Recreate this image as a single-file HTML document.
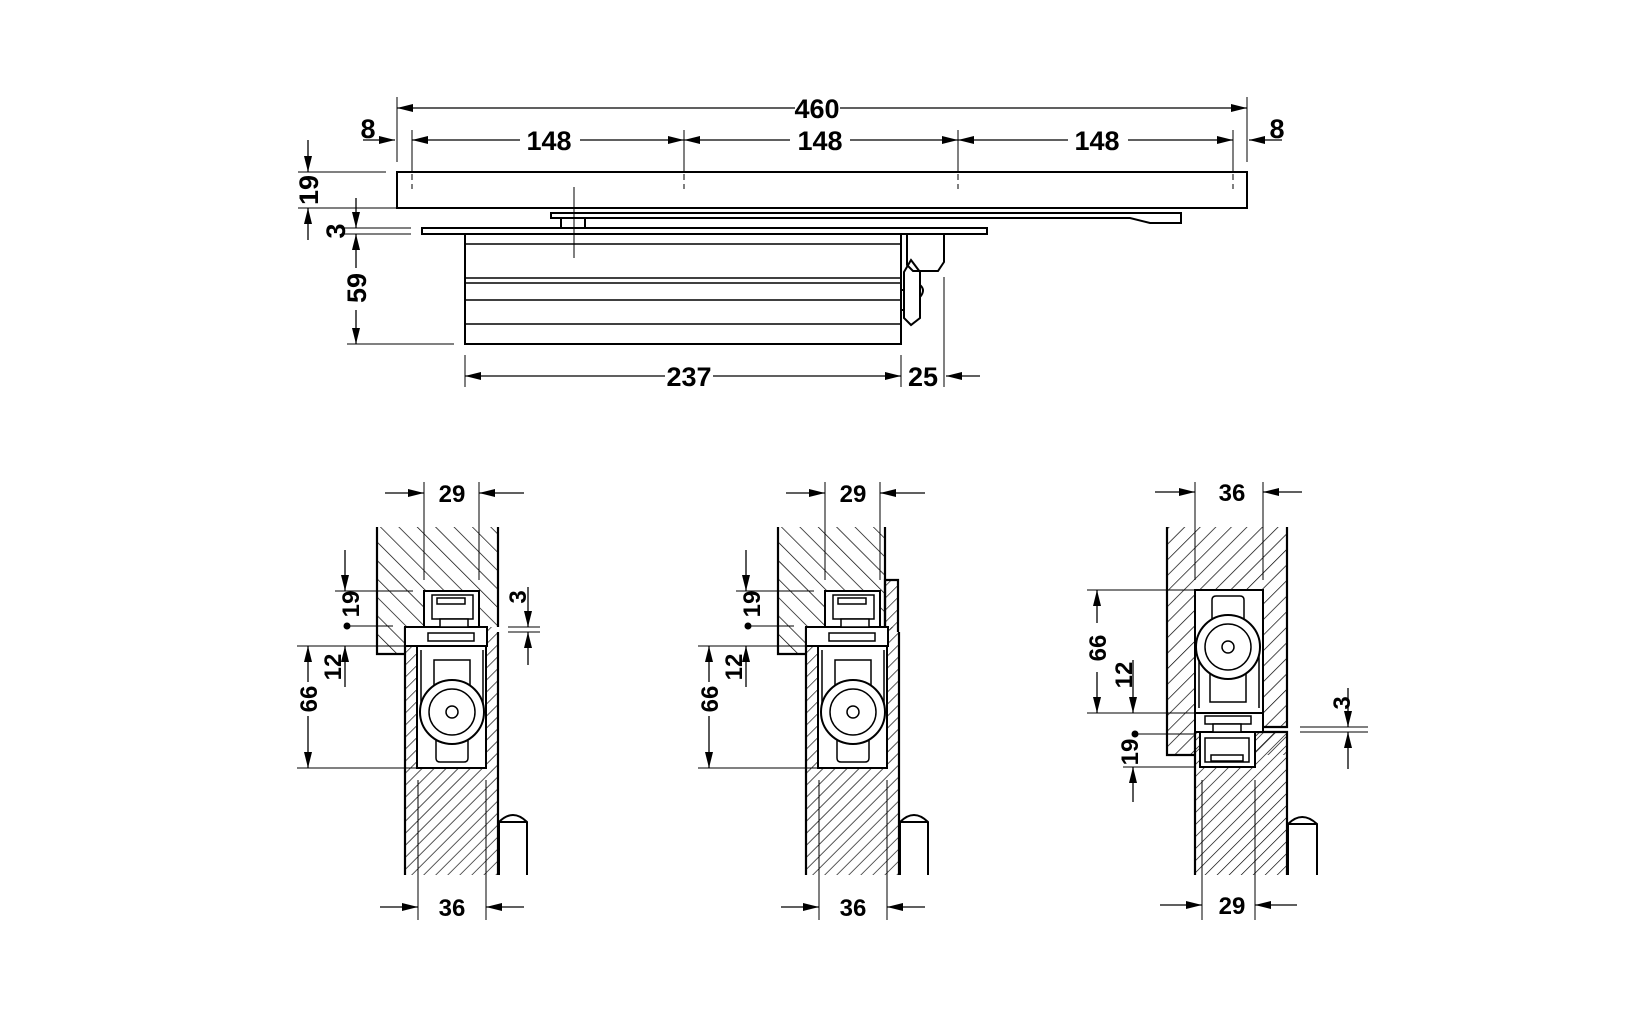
<!DOCTYPE html>
<html><head><meta charset="utf-8"><style>html,body{margin:0;padding:0;background:#fff}svg{display:block}text{font-family:"Liberation Sans",sans-serif;font-weight:bold;fill:#000}</style></head><body>
<svg width="1635" height="1030" viewBox="0 0 1635 1030" xmlns="http://www.w3.org/2000/svg">
<defs>
<marker id="ar" markerWidth="16" markerHeight="8" refX="16" refY="4" orient="auto-start-reverse" markerUnits="userSpaceOnUse"><path d="M0,0 L16,4 L0,8 Z" fill="#000"/></marker>
<pattern id="hb" width="13" height="13" patternUnits="userSpaceOnUse" patternTransform="rotate(-45)"><line x1="0" y1="0" x2="0" y2="13" stroke="#000" stroke-width="1.4"/></pattern>
<pattern id="hs" width="8.5" height="8.5" patternUnits="userSpaceOnUse" patternTransform="rotate(45)"><line x1="0" y1="0" x2="0" y2="8.5" stroke="#000" stroke-width="1.3"/></pattern>
<pattern id="hr" width="11" height="11" patternUnits="userSpaceOnUse" patternTransform="rotate(45)"><line x1="0" y1="0" x2="0" y2="11" stroke="#000" stroke-width="1.4"/></pattern>
<g id="closer">
 <rect x="417" y="646" width="69" height="122" fill="#fff" stroke="#000" stroke-width="2"/>
 <line x1="421" y1="650" x2="421" y2="705" stroke="#000" stroke-width="1.5"/>
 <line x1="483" y1="650" x2="483" y2="705" stroke="#000" stroke-width="1.5"/>
 <rect x="434" y="660" width="36" height="28" fill="#fff" stroke="#000" stroke-width="1.5"/>
 <path d="M436,736 V758 Q436,762 440,762 H464 Q468,762 468,758 V736" fill="#fff" stroke="#000" stroke-width="1.5"/>
 <circle cx="452" cy="712" r="32" fill="#fff" stroke="#000" stroke-width="2"/>
 <circle cx="452" cy="712" r="23" fill="#fff" stroke="#000" stroke-width="1.5"/>
 <circle cx="452" cy="712" r="6" fill="#fff" stroke="#000" stroke-width="1.5"/>
 <rect x="405" y="627" width="82" height="19" fill="#fff" stroke="#000" stroke-width="2"/>
 <rect x="424" y="591" width="55" height="36" fill="#fff" stroke="#000" stroke-width="2"/>
 <rect x="432" y="595" width="41" height="24" fill="#fff" stroke="#000" stroke-width="1.5"/>
 <rect x="437" y="598" width="28" height="6" fill="#fff" stroke="#000" stroke-width="1.5"/>
 <rect x="440" y="619" width="28" height="8" fill="#fff" stroke="#000" stroke-width="1.5"/>
 <rect x="428" y="633" width="46" height="8" fill="#fff" stroke="#000" stroke-width="1.5"/>
</g>
<g id="common">
 <rect x="405" y="627" width="93" height="248" fill="url(#hs)"/>
 <line x1="405" y1="627" x2="405" y2="875" stroke="#000" stroke-width="2.2"/>
 <line x1="498" y1="632" x2="498" y2="875" stroke="#000" stroke-width="2.2"/>
 <use href="#closer"/>
 <path d="M499,875 V822 Q513,808 527,822 V875 M499,822 H527" fill="#fff" stroke="#000" stroke-width="2"/>
 <g stroke="#000" stroke-width="1">
  <line x1="424" y1="482" x2="424" y2="580"/><line x1="479" y1="482" x2="479" y2="580"/>
  <line x1="418" y1="780" x2="418" y2="920"/><line x1="486" y1="780" x2="486" y2="920"/>
  <line x1="297" y1="646" x2="405" y2="646"/><line x1="297" y1="768" x2="417" y2="768"/>
  <line x1="335" y1="591" x2="413" y2="591"/><line x1="347" y1="626" x2="393" y2="626"/>
 </g>
 <g stroke="#000" stroke-width="1.3" marker-end="url(#ar)">
  <line x1="385" y1="493" x2="424" y2="493"/><line x1="524" y1="493" x2="479" y2="493"/>
  <line x1="380" y1="907" x2="418" y2="907"/><line x1="524" y1="907" x2="486" y2="907"/>
  <line x1="308" y1="682" x2="308" y2="646"/><line x1="308" y1="716" x2="308" y2="768"/>
  <line x1="345" y1="687" x2="345" y2="646"/><line x1="345" y1="550" x2="345" y2="591"/>
 </g>
 <circle cx="347" cy="626" r="3.5" fill="#000"/>
 <text x="452" y="502" font-size="24" text-anchor="middle">29</text>
 <text x="452" y="916" font-size="24" text-anchor="middle">36</text>
 <text transform="translate(317,699) rotate(-90)" font-size="24" text-anchor="middle">66</text>
 <text transform="translate(341,667) rotate(-90)" font-size="24" text-anchor="middle">12</text>
 <text transform="translate(359,604) rotate(-90)" font-size="24" text-anchor="middle">19</text>
</g>
</defs>

<!-- TOP VIEW -->
<g stroke="#000" fill="none">
 <g stroke-width="1">
  <line x1="397" y1="97" x2="397" y2="162"/><line x1="1247" y1="97" x2="1247" y2="162"/>
  <line x1="412" y1="130" x2="412" y2="172"/><line x1="684" y1="130" x2="684" y2="172"/><line x1="958" y1="130" x2="958" y2="172"/><line x1="1233" y1="130" x2="1233" y2="172"/>
  <g stroke-dasharray="6,4"><line x1="412" y1="174" x2="412" y2="189"/><line x1="684" y1="174" x2="684" y2="189"/><line x1="958" y1="174" x2="958" y2="189"/><line x1="1233" y1="174" x2="1233" y2="189"/></g>
  <line x1="298" y1="172" x2="386" y2="172"/><line x1="298" y1="208" x2="397" y2="208"/>
  <line x1="344" y1="228" x2="411" y2="228"/><line x1="344" y1="234" x2="411" y2="234"/>
  <line x1="347" y1="344" x2="454" y2="344"/>
  <line x1="465" y1="355" x2="465" y2="387"/><line x1="901" y1="355" x2="901" y2="387"/><line x1="944" y1="277" x2="944" y2="387"/>
 </g>
 <g stroke-width="1.3" marker-end="url(#ar)">
  <line x1="795" y1="108" x2="397" y2="108"/>
  <line x1="840" y1="108" x2="1247" y2="108"/>
  <line x1="520" y1="140" x2="412" y2="140"/><line x1="580" y1="140" x2="684" y2="140"/>
  <line x1="790" y1="140" x2="684" y2="140"/><line x1="850" y1="140" x2="958" y2="140"/>
  <line x1="1068" y1="140" x2="958" y2="140"/><line x1="1128" y1="140" x2="1233" y2="140"/>
  <line x1="363" y1="140" x2="395" y2="140"/><line x1="1282" y1="140" x2="1249" y2="140"/>
  <line x1="308" y1="140" x2="308" y2="172"/><line x1="308" y1="240" x2="308" y2="208"/>
  <line x1="356" y1="198" x2="356" y2="228"/><line x1="356" y1="268" x2="356" y2="234"/><line x1="356" y1="310" x2="356" y2="344"/>
  <line x1="665" y1="376" x2="465" y2="376"/><line x1="713" y1="376" x2="901" y2="376"/>
  <line x1="980" y1="376" x2="946" y2="376"/>
 </g>
 <g stroke-width="2">
  <rect x="397" y="172" width="850" height="36"/>
  <path d="M551,213 H1181 V223 H1150 L1130,218 H551 Z"/>
  <rect x="561" y="218" width="24" height="10"/>
  <rect x="422" y="228" width="565" height="6"/>
  <rect x="465" y="234" width="436" height="110"/>
  <path d="M907,234 H944 V262 L938,271 H913 L907,265 Z"/>
  <path d="M911,260 L920,272 L920,318 L911,325 L904,318 L904,272 Z"/>
  <path d="M920,285 Q926,290 920,297"/>
  <line x1="901" y1="290" x2="904" y2="290"/><line x1="901" y1="310" x2="904" y2="310"/>
 </g>
 <g stroke-width="1.5">
  <line x1="465" y1="244" x2="901" y2="244"/><line x1="465" y1="278" x2="901" y2="278"/><line x1="465" y1="283" x2="901" y2="283"/><line x1="465" y1="300" x2="901" y2="300"/><line x1="465" y1="324" x2="901" y2="324"/>
 </g>
 <line x1="574" y1="187" x2="574" y2="258" stroke-width="1"/>
</g>
<g font-size="27">
 <text x="817" y="118" text-anchor="middle">460</text>
 <text x="549" y="150" text-anchor="middle">148</text>
 <text x="820" y="150" text-anchor="middle">148</text>
 <text x="1097" y="150" text-anchor="middle">148</text>
 <text x="368" y="138" text-anchor="middle">8</text>
 <text x="1277" y="138" text-anchor="middle">8</text>
 <text x="689" y="386" text-anchor="middle">237</text>
 <text x="923" y="386" text-anchor="middle">25</text>
 <text transform="translate(318,190) rotate(-90)" text-anchor="middle">19</text>
 <text transform="translate(345,231) rotate(-90)" text-anchor="middle">3</text>
 <text transform="translate(366,288) rotate(-90)" text-anchor="middle">59</text>
</g>

<!-- LEFT SECTION -->
<path d="M377,527 V654 H405 V627 H498 V527 Z" fill="url(#hb)"/>
<polyline points="377,527 377,654 405,654" fill="none" stroke="#000" stroke-width="2.2"/>
<line x1="498" y1="527" x2="498" y2="627" stroke="#000" stroke-width="2.2"/>
<use href="#common"/>
<g stroke="#000" stroke-width="1"><line x1="508" y1="627" x2="540" y2="627"/><line x1="508" y1="632" x2="540" y2="632"/></g>
<g stroke="#000" stroke-width="1.3" marker-end="url(#ar)"><line x1="528" y1="587" x2="528" y2="627"/><line x1="528" y1="665" x2="528" y2="632"/></g>
<text transform="translate(526,597) rotate(-90)" font-size="24" text-anchor="middle">3</text>

<!-- MIDDLE SECTION -->
<g transform="translate(401,0)">
 <path d="M377,527 V654 H405 V627 H484 V527 Z" fill="url(#hb)"/>
 <rect x="484" y="580" width="13" height="50" fill="url(#hs)"/>
 <polyline points="377,527 377,654 405,654" fill="none" stroke="#000" stroke-width="2.2"/>
 <line x1="484" y1="527" x2="484" y2="627" stroke="#000" stroke-width="2.2"/>
 <use href="#common"/>
 <polyline points="484,627 484,580 497,580 497,632" fill="none" stroke="#000" stroke-width="2.2"/>
</g>

<!-- RIGHT SECTION -->
<rect x="1167" y="527" width="120" height="228" fill="url(#hr)"/>
<rect x="1195" y="732" width="92" height="143" fill="url(#hs)"/>
<rect x="1263" y="727" width="24" height="5" fill="#fff"/>
<g stroke="#000" stroke-width="2.2" fill="none">
 <polyline points="1167,527 1167,755 1195,755"/>
 <polyline points="1287,527 1287,727 1263,727"/>
 <polyline points="1255,732 1287,732 1287,875"/>
 <line x1="1195" y1="732" x2="1195" y2="875"/>
</g>
<g stroke="#000" fill="#fff">
 <rect x="1195" y="590" width="68" height="123" stroke-width="2"/>
 <line x1="1199" y1="650" x2="1199" y2="708" stroke-width="1.5"/><line x1="1259" y1="650" x2="1259" y2="708" stroke-width="1.5"/>
 <path d="M1212,620 V600 Q1212,596 1216,596 H1240 Q1244,596 1244,600 V620" stroke-width="1.5"/>
 <rect x="1210" y="672" width="36" height="30" stroke-width="1.5"/>
 <circle cx="1228" cy="647" r="32" stroke-width="2"/>
 <circle cx="1228" cy="647" r="23" stroke-width="1.5"/>
 <circle cx="1228" cy="647" r="6" stroke-width="1.5"/>
 <rect x="1195" y="713" width="68" height="19" stroke-width="2"/>
 <rect x="1200" y="732" width="55" height="35" stroke-width="2"/>
 <rect x="1205" y="738" width="44" height="24" stroke-width="1.5"/>
 <rect x="1211" y="755" width="32" height="6" stroke-width="1.5"/>
 <rect x="1205" y="716" width="46" height="8" stroke-width="1.5"/>
 <rect x="1213" y="724" width="28" height="8" stroke-width="1.5"/>
 <path d="M1288,875 V824 Q1302,810 1317,824 V875 M1288,824 H1317" stroke-width="2"/>
</g>
<g stroke="#000" stroke-width="1">
 <line x1="1195" y1="482" x2="1195" y2="580"/><line x1="1263" y1="482" x2="1263" y2="580"/>
 <line x1="1202" y1="780" x2="1202" y2="920"/><line x1="1255" y1="780" x2="1255" y2="920"/>
 <line x1="1087" y1="590" x2="1195" y2="590"/><line x1="1087" y1="713" x2="1195" y2="713"/>
 <line x1="1135" y1="734" x2="1195" y2="734"/><line x1="1123" y1="767" x2="1195" y2="767"/>
 <line x1="1300" y1="727" x2="1368" y2="727"/><line x1="1300" y1="732" x2="1368" y2="732"/>
</g>
<g stroke="#000" stroke-width="1.3" marker-end="url(#ar)">
 <line x1="1155" y1="492" x2="1195" y2="492"/><line x1="1302" y1="492" x2="1263" y2="492"/>
 <line x1="1160" y1="905" x2="1202" y2="905"/><line x1="1297" y1="905" x2="1255" y2="905"/>
 <line x1="1097" y1="623" x2="1097" y2="590"/><line x1="1097" y1="672" x2="1097" y2="713"/>
 <line x1="1133" y1="660" x2="1133" y2="713"/>
 <line x1="1133" y1="802" x2="1133" y2="767"/>
 <line x1="1348" y1="688" x2="1348" y2="727"/><line x1="1348" y1="769" x2="1348" y2="732"/>
</g>
<circle cx="1135" cy="734" r="3.5" fill="#000"/>
<g font-size="24">
 <text x="1232" y="501" text-anchor="middle">36</text>
 <text x="1232" y="914" text-anchor="middle">29</text>
 <text transform="translate(1106,648) rotate(-90)" text-anchor="middle">66</text>
 <text transform="translate(1132,675) rotate(-90)" text-anchor="middle">12</text>
 <text transform="translate(1138,752) rotate(-90)" text-anchor="middle">19</text>
 <text transform="translate(1350,703) rotate(-90)" text-anchor="middle">3</text>
</g>
</svg>
</body></html>
